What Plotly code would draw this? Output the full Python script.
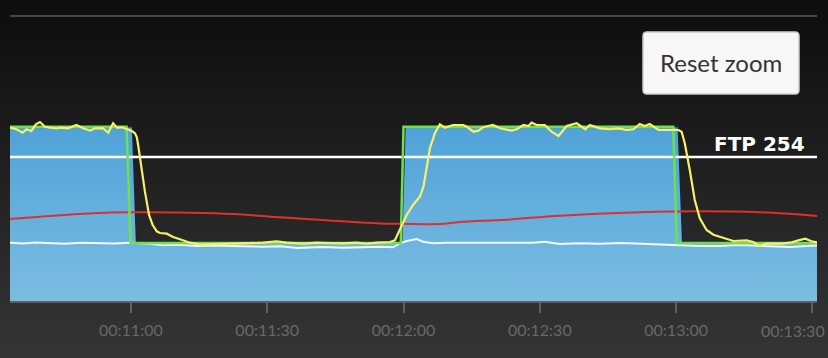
import base64
import plotly.graph_objects as go

# ---------------- data (time in seconds, values in watts) ----------------
FTP = 254

power_t = [633.4, 634.8, 636.2, 637.0, 638.1, 639.1, 640.0, 641.1, 642.2, 643.6, 644.7, 646.2, 648.0,
           649.5, 651.0, 652.1, 653.9, 655.0, 656.1, 656.9, 658.0, 659.1, 660.2, 660.9, 661.3, 661.6,
           662.4, 663.1, 664.0, 664.8, 665.7, 666.4, 667.9, 669.3, 670.8, 673.0, 675.2, 678.1, 681.1,
           684.0, 686.2, 689.1, 692.1, 694.3, 697.9, 700.9, 703.8, 706.7, 709.7, 711.9, 714.1, 717.0,
           718.1, 718.8, 719.6, 720.7, 722.1, 723.6, 724.4, 725.1, 725.8, 726.9, 728.0, 729.1, 730.9,
           733.2, 733.9, 735.4, 736.5, 737.5, 739.7, 741.2, 743.8, 744.9, 746.4, 747.5, 748.2, 749.3,
           751.1, 752.6, 754.1, 755.9, 758.1, 760.0, 761.0, 763.2, 765.5, 767.3, 769.1, 770.6, 772.0,
           773.1, 774.2, 776.1, 777.9, 780.5, 781.2, 781.9, 783.0, 784.1, 785.2, 786.7, 788.2, 790.4,
           792.6, 795.5, 797.0, 798.3, 799.9, 802.9, 805.1, 806.9, 808.4, 809.8, 811.3]
power_w = [305.9, 303.1, 297.0, 303.1, 300.1, 311.9, 315.9, 307.6, 305.9, 304.8, 305.9, 304.8, 310.6,
           304.8, 300.6, 304.8, 304.8, 297.0, 313.6, 305.9, 306.6, 303.1, 300.1, 296.0, 289.5, 275.3,
           228.2, 192.9, 151.8, 134.1, 123.0, 120.0, 118.8, 113.0, 108.9, 102.9, 99.4, 100.1, 100.1,
           101.1, 102.4, 102.9, 105.4, 102.9, 101.1, 102.9, 102.4, 101.8, 102.9, 101.1, 102.9, 104.1,
           107.1, 118.8, 130.6, 151.8, 169.4, 184.1, 201.7, 240.0, 269.5, 296.0, 311.9, 305.9, 310.6,
           310.6, 307.6, 298.8, 300.6, 306.6, 310.6, 304.8, 300.6, 303.1, 310.6, 308.9, 314.7, 310.6,
           310.6, 298.8, 291.2, 308.9, 313.6, 303.1, 310.6, 304.8, 303.1, 304.8, 301.8, 303.1, 312.4,
           308.9, 312.4, 301.8, 301.8, 301.8, 298.8, 278.3, 231.1, 178.3, 146.0, 125.3, 117.0, 111.2,
           105.9, 107.1, 104.1, 97.1, 101.1, 101.1, 102.9, 107.1, 110.0, 105.4, 102.9]

target_t = [633.4, 659.05, 659.93, 719.4, 720.0, 779.37, 780.12, 811.5]
target_w = [307.6, 307.6, 102.4, 102.4, 307.6, 307.6, 102.4, 102.4]

area_t = [633.4, 660.37, 661.25, 719.59, 720.32, 780.47, 781.44, 811.5]
area_w = [307.6, 307.6, 104.7, 104.7, 307.6, 307.6, 104.7, 104.7]

red_t = [633.4, 640.0, 651.6, 659.8, 673.0, 682.5, 690.6, 692.8, 704.5, 716.4, 719.2, 728.0,
         732.4, 742.8, 754.4, 772.0, 785.2, 798.5, 811.3]
red_w = [144.7, 148.8, 154.8, 156.6, 155.9, 153.6, 148.8, 147.7, 141.7, 136.4, 136.4, 135.9,
         139.4, 143.5, 150.6, 156.6, 158.3, 156.6, 150.0]

white_t = [633.4, 636.5, 639.0, 642.2, 645.5, 649.0, 653.2, 656.5, 659.8, 664.2, 667.1, 670.5,
           674.5, 678.0, 681.8, 685.5, 689.1, 693.0, 696.5, 702.3, 706.5, 711.1, 714.5, 717.7,
           719.2, 720.7, 722.9, 724.3, 726.5, 729.5, 732.4, 736.8, 741.0, 745.6, 748.5, 751.1,
           754.4, 758.5, 763.2, 768.0, 772.5, 776.4, 780.8, 785.2, 789.6, 792.5, 795.5, 801.3,
           805.1, 808.7, 811.3]
white_w = [102.9, 101.5, 103.4, 102.4, 101.1, 103.0, 102.4, 101.3, 102.9, 101.1, 98.3, 99.2,
           97.1, 98.0, 97.1, 96.2, 95.8, 96.8, 93.5, 95.3, 94.0, 94.8, 95.9, 94.8,
           101.8, 105.9, 109.4, 104.7, 101.8, 103.0, 102.9, 102.4, 103.2, 101.8, 103.0, 104.7,
           100.6, 102.0, 101.1, 102.2, 100.8, 100.1, 98.3, 97.1, 97.1, 98.5, 98.3, 97.1,
           95.3, 97.1, 98.3]

tick_vals = [660, 690, 720, 750, 780, 810]
tick_text = ["00:11:00", "00:11:30", "00:12:00", "00:12:30", "00:13:00", "00:13:30"]

X_RANGE = [633.4, 811.0]
Y_RANGE = [0, 503]

# ---------------- figure ----------------
fig = go.Figure()

fig.add_trace(go.Scatter(
    x=area_t, y=area_w, mode="lines", fill="tozeroy",
    line=dict(color="#1c2630", width=1.5),
    fillgradient=dict(type="vertical", start=0, stop=307.6,
                      colorscale=[[0, "#7bbde2"], [1, "#4fa2d8"]]),
    hoverinfo="skip", showlegend=False))

fig.add_trace(go.Scatter(
    x=[X_RANGE[0], X_RANGE[1] + 0.3], y=[FTP, FTP], mode="lines",
    line=dict(color="#ffffff", width=2.5), hoverinfo="skip", showlegend=False))

fig.add_trace(go.Scatter(
    x=white_t, y=white_w, mode="lines",
    line=dict(color="#f4f8fb", width=2), hoverinfo="skip", showlegend=False))

fig.add_trace(go.Scatter(
    x=red_t, y=red_w, mode="lines", line_shape="spline",
    line=dict(color="#e0302a", width=2), hoverinfo="skip", showlegend=False))

fig.add_trace(go.Scatter(
    x=target_t, y=target_w, mode="lines",
    line=dict(color="#6fe04c", width=2.5), hoverinfo="skip", showlegend=False))

fig.add_trace(go.Scatter(
    x=power_t, y=power_w, mode="lines",
    line=dict(color="#f6f06a", width=2.2), hoverinfo="skip", showlegend=False))

# background gradient as an inline svg image
svg = ('<svg xmlns="http://www.w3.org/2000/svg" width="828" height="358" viewBox="0 0 828 358" '
       'preserveAspectRatio="none"><defs><linearGradient id="g" x1="0" y1="0" x2="0" y2="1">'
       '<stop offset="0" stop-color="#0d0d0d"/><stop offset="1" stop-color="#353535"/>'
       '</linearGradient></defs><rect width="828" height="358" fill="url(#g)"/></svg>')
src = "data:image/svg+xml;base64," + base64.b64encode(svg.encode()).decode()

W, H = 828, 358
L, R, T, B = 10, 11, 16, 57
pw, ph = W - L - R, H - T - B


def px(x):
    return (x - L) / pw


def py(y):
    return (H - B - y) / ph


fig.add_layout_image(dict(source=src, xref="paper", yref="paper",
                          x=px(0), y=py(0), sizex=W / pw, sizey=H / ph,
                          xanchor="left", yanchor="top", sizing="stretch", layer="below"))

# top rule
fig.add_shape(type="line", xref="paper", yref="paper", x0=0, x1=1, y0=1, y1=1,
              line=dict(color="#474747", width=2))

# reset zoom button (rounded rect)
bx0, bx1, by0, by1, rr = 643, 799, 32, 94, 4
path = (f"M {px(bx0 + rr)} {py(by0)} L {px(bx1 - rr)} {py(by0)} "
        f"Q {px(bx1)} {py(by0)} {px(bx1)} {py(by0 + rr)} L {px(bx1)} {py(by1 - rr)} "
        f"Q {px(bx1)} {py(by1)} {px(bx1 - rr)} {py(by1)} L {px(bx0 + rr)} {py(by1)} "
        f"Q {px(bx0)} {py(by1)} {px(bx0)} {py(by1 - rr)} L {px(bx0)} {py(by0 + rr)} "
        f"Q {px(bx0)} {py(by0)} {px(bx0 + rr)} {py(by0)} Z")
fig.add_shape(type="path", xref="paper", yref="paper", path=path,
              fillcolor="#f7f7f7", line=dict(color="#cccccc", width=1.5))
fig.add_annotation(xref="paper", yref="paper", x=px((bx0 + bx1) / 2), y=py((by0 + by1) / 2),
                   text="Reset zoom", showarrow=False, xanchor="center", yanchor="middle",
                   font=dict(family="Lato", size=24, color="#333333"))

# FTP label
fig.add_annotation(xref="paper", yref="y", x=px(807), y=FTP, yshift=13,
                   text=f"<b>FTP {FTP}</b>", showarrow=False, xanchor="right", yanchor="middle",
                   font=dict(family="DejaVu Sans", size=20, color="#ffffff"))

# last tick label is pushed inward (justified) at the right edge in the reference
fig.add_annotation(xref="paper", yref="paper", x=px(827), y=py(330),
                   text=tick_text[-1], showarrow=False, xanchor="right", yanchor="middle",
                   font=dict(family="Lato", size=16, color="#686868"))

fig.update_layout(
    width=W, height=H, autosize=False,
    margin=dict(l=L, r=R, t=T, b=B, pad=0),
    paper_bgcolor="#1a1a1a", plot_bgcolor="rgba(0,0,0,0)",
    showlegend=False,
    xaxis=dict(range=X_RANGE, tickvals=tick_vals, ticktext=tick_text[:-1] + [""],
               showgrid=False, zeroline=False, showline=True, linecolor="#5f5f5f", linewidth=2,
               ticks="outside", ticklen=10, tickwidth=1.5, tickcolor="#5f5f5f",
               ticklabelstandoff=4,
               tickfont=dict(family="Lato", size=16, color="#686868"), fixedrange=True),
    yaxis=dict(range=Y_RANGE, visible=False, showgrid=False, zeroline=False, fixedrange=True),
)

fig.write_html("out.html", config={"displayModeBar": False})
